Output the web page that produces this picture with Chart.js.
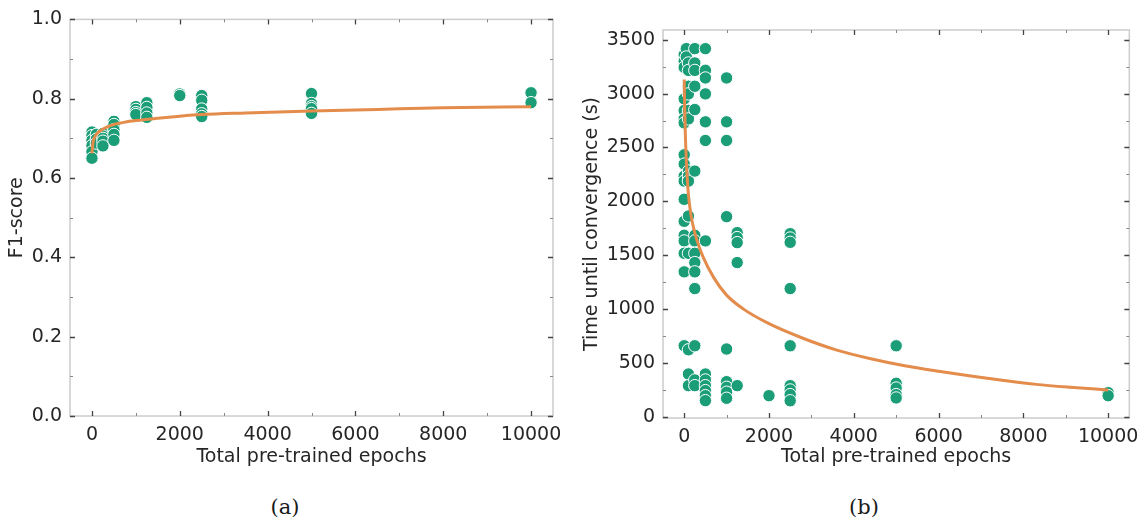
<!DOCTYPE html>
<html><head><meta charset="utf-8">
<script src="https://cdn.jsdelivr.net/npm/chart.js@4/dist/chart.umd.min.js"></script>
<style>
html,body{margin:0;padding:0;background:#fff;width:1147px;height:525px;overflow:hidden}
#c1{position:absolute;left:0;top:0}
#c2{position:absolute;left:575px;top:0}
.cap{position:absolute;top:494px;line-height:26px;font-family:"DejaVu Serif",serif;font-size:21px;color:#1a1a1a;transform:translateX(-50%)}
</style></head><body>
<canvas id="c1" width="575" height="475"></canvas>
<canvas id="c2" width="572" height="475"></canvas>
<div class="cap" style="left:285px">(a)</div>
<div class="cap" style="left:864px">(b)</div>
<script>
// ---------- (a) F1-score vs pre-trained epochs ----------
const f1Epochs = [0,0,0,0,0,0, 100,100,100, 250,250,250,250,250, 500,500,500,500,500,
  1000,1000,1000,1000, 1250,1250,1250,1250, 2000,2000, 2500,2500,2500,2500,2500,
  5000,5000,5000,5000,5000, 10000,10000];
const f1Scores = [0.716,0.707,0.695,0.682,0.666,0.650, 0.710,0.698,0.688,
  0.712,0.706,0.700,0.693,0.681, 0.743,0.735,0.722,0.710,0.695,
  0.780,0.773,0.765,0.760, 0.790,0.778,0.764,0.753, 0.812,0.808,
  0.808,0.796,0.774,0.762,0.755, 0.813,0.788,0.780,0.775,0.763, 0.815,0.790];
const f1FitEpochs = [0,25,50,100,200,350,500,750,1000,1500,2000,2500,3500,5000,6500,8000,10000];
const f1FitValues = [0.662,0.690,0.700,0.710,0.720,0.729,0.735,0.741,0.745,0.751,0.756,0.760,0.764,0.769,0.773,0.777,0.780];

// ---------- (b) time until convergence vs pre-trained epochs ----------
const timeEpochs = [
  0,0,0,0,0,0,0,0,0,0,0,0,0,0,0,0,0,0,
  50,50,
  100,100,100,100,100,100,100,100,100,100,100,100,100,100,
  250,250,250,250,250,250,250,250,250,250,250,250,250,250,250,
  500,500,500,500,500,500,500,500,500,500,500,500,500,
  1000,1000,1000,1000,1000,1000,1000,1000,1000,
  1250,1250,1250,1250,1250,
  2000,
  2500,2500,2500,2500,2500,2500,2500,2500,2500,
  5000,5000,5000,5000,5000,
  10000,10000];
const timeSeconds = [
  3360,3300,3244,2951,2843,2765,2728,2432,2346,2234,2188,2019,1815,1685,1633,1518,1346,660,
  3417,3340,
  3284,3215,3068,2997,2843,2765,2281,2234,2188,1864,1518,623,398,290,
  3417,3284,3215,3068,2852,2281,1685,1633,1518,1432,1346,1191,660,343,290,
  3417,3216,3145,2997,2738,2565,1633,398,343,290,244,197,151,
  3145,2738,2565,1858,630,327,275,229,173,
  1710,1664,1617,1432,290,
  197,
  1700,1660,1620,1191,660,290,250,207,150,
  660,312,268,207,176,
  225,197];
const timeFitEpochs = [0,10,25,50,75,100,150,200,300,450,700,1000,1400,2000,2800,3600,4400,5200,6000,6800,7500,8300,9100,10000];
const timeFitValues = [3130,2900,2650,2380,2200,2060,1900,1790,1640,1480,1290,1130,1000,865,730,620,540,475,423,377,340,302,275,250];

// ---------- ticks ----------
const epochTicks = [0,2000,4000,6000,8000,10000];
const epochMinor = [1000,3000,5000,7000,9000];
const f1Ticks = [0.0,0.2,0.4,0.6,0.8,1.0];
const f1Minor = [0.1,0.3,0.5,0.7,0.9];
const timeTicks = [0,500,1000,1500,2000,2500,3000,3500];
const timeMinor = [250,750,1250,1750,2250,2750,3250];

const GREEN = '#1b9e77';
const ORANGE = '#e48c4b';
const TEXT = '#262626';
Chart.defaults.font.family = "'DejaVu Sans', sans-serif";
Chart.defaults.color = TEXT;

const frameTicks = {
  id: 'frameTicks',
  afterDraw(chart, args, o) {
    const {ctx, chartArea: {left, right, top, bottom}, scales: {x, y}} = chart;
    ctx.save();
    ctx.strokeStyle = '#cccccc'; ctx.lineWidth = 1.5;
    ctx.strokeRect(left, top, right - left, bottom - top);
    const xt = (vals, len, col, w) => {
      ctx.strokeStyle = col; ctx.lineWidth = w; ctx.beginPath();
      vals.forEach(v => { const p = Math.round(x.getPixelForValue(v)) + 0.5;
        ctx.moveTo(p, bottom); ctx.lineTo(p, bottom - len);
        ctx.moveTo(p, top); ctx.lineTo(p, top + len); });
      ctx.stroke();
    };
    const yt = (vals, len, col, w) => {
      ctx.strokeStyle = col; ctx.lineWidth = w; ctx.beginPath();
      vals.forEach(v => { const p = Math.round(y.getPixelForValue(v)) + 0.5;
        ctx.moveTo(left, p); ctx.lineTo(left + len, p);
        ctx.moveTo(right, p); ctx.lineTo(right - len, p); });
      ctx.stroke();
    };
    xt(o.xMajor, 5, '#444', 1.3); xt(o.xMinor, 3, '#888', 1);
    yt(o.yMajor, 5, '#444', 1.3); yt(o.yMinor, 3, '#888', 1);
    ctx.restore();
  }
};

function pairs(xs, ys) { return xs.map((v, i) => ({x: v, y: ys[i]})); }

function makeChart(id, cfg) {
  return new Chart(document.getElementById(id), {
    type: 'scatter',
    data: { datasets: [
      { data: pairs(cfg.fitX, cfg.fitY), showLine: true, borderColor: ORANGE, borderWidth: 3,
        pointRadius: 0, cubicInterpolationMode: 'monotone', fill: false },
      { data: pairs(cfg.px, cfg.py), backgroundColor: GREEN, borderColor: '#ffffff',
        borderWidth: 1, pointRadius: 6.2 }
    ]},
    options: {
      responsive: false, animation: false, devicePixelRatio: 1,
      layout: { padding: cfg.pad },
      plugins: { legend: {display: false}, tooltip: {enabled: false},
        frameTicks: { xMajor: epochTicks, xMinor: epochMinor, yMajor: cfg.yTicks, yMinor: cfg.yMinor } },
      scales: {
        x: { type: 'linear', min: -500, max: 10500,
          grid: {display: false, drawTicks: false}, border: {display: false},
          afterBuildTicks: s => { s.ticks = epochTicks.map(v => ({value: v})); },
          afterFit: s => { s.height = cfg.xH; },
          ticks: { font: {size: 19}, color: TEXT, padding: 8, callback: v => String(v) },
          title: { display: true, text: 'Total pre-trained epochs', font: {size: 19}, color: TEXT,
            padding: {top: 0, bottom: 7} } },
        y: { type: 'linear', min: cfg.yMin, max: cfg.yMax,
          grid: {display: false, drawTicks: false}, border: {display: false},
          afterBuildTicks: s => { s.ticks = cfg.yTicks.map(v => ({value: v})); },
          afterFit: s => { s.width = cfg.yW; },
          ticks: { font: {size: 19}, color: TEXT, padding: 8, callback: cfg.fmt },
          title: { display: true, text: cfg.yTitle, font: {size: 19}, color: TEXT,
            padding: {top: 6, bottom: 0} } }
      }
    },
    plugins: [frameTicks]
  });
}

makeChart('c1', { px: f1Epochs, py: f1Scores, fitX: f1FitEpochs, fitY: f1FitValues,
  yMin: 0, yMax: 1, yTicks: f1Ticks, yMinor: f1Minor, yTitle: 'F1-score',
  fmt: v => v.toFixed(1), yW: 70, xH: 59, pad: {left: 0, right: 22, top: 14, bottom: 0} });

makeChart('c2', { px: timeEpochs, py: timeSeconds, fitX: timeFitEpochs, fitY: timeFitValues,
  yMin: -10, yMax: 3590, yTicks: timeTicks, yMinor: timeMinor, yTitle: 'Time until convergence (s)',
  fmt: v => String(v), yW: 88, xH: 57, pad: {left: 0, right: 14, top: 30, bottom: 0} });
</script>
</body></html>
